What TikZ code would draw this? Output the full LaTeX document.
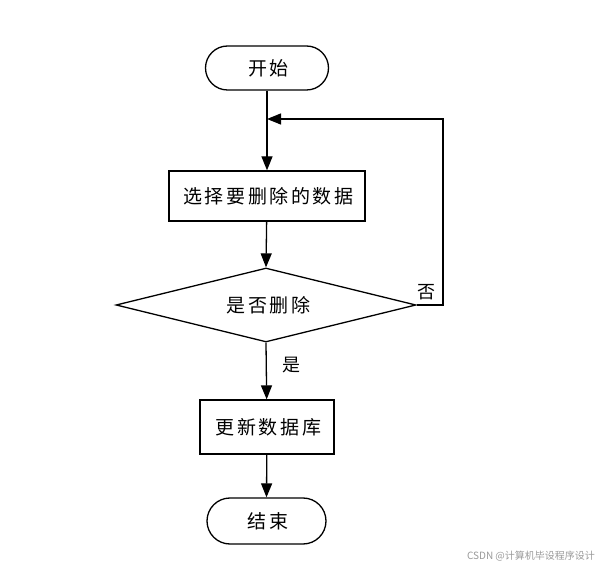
\documentclass[tikz,border=0pt]{standalone}
\usepackage{fontspec}
\setmainfont{Noto Sans CJK SC}
\newfontfamily\cjksp[LetterSpace=14]{Noto Sans CJK SC}
\newcommand\spaced[1]{\kern2.66pt#1}
\usetikzlibrary{shapes.geometric,shapes.misc,arrows.meta}
\begin{document}
\begin{tikzpicture}[x=1pt,y=-1pt,
  every node/.style={font=\cjksp\fontsize{19}{21}\selectfont},
  term/.style={draw,line width=1.3pt,rounded rectangle,minimum width=123pt,minimum height=44pt,inner sep=0pt},
  proc/.style={draw,line width=1.3pt,rectangle,inner sep=0pt},
  dec/.style={draw,line width=1.3pt,diamond,aspect=4.05,minimum width=300pt,minimum height=74pt,inner sep=0pt},
  conn/.style={line width=1.3pt,-{Triangle[length=14pt,width=11pt]}},
  lbl/.style={font=\fontsize{18}{20}\selectfont}]
\useasboundingbox (0,0) rectangle (611,569);
\node[term] (start) at (267,68) {\spaced{开始}};
\node[proc,minimum width=196pt,minimum height=50pt] (sel) at (267,196) {\spaced{选择要删除的数据}};
\node[dec] (q) at (266,305) {};
\node at (267,305) {\spaced{是否删除}};
\node[proc,minimum width=134pt,minimum height=54pt] (upd) at (267,427) {\spaced{更新数据库}};
\node[term,minimum width=119pt,minimum height=46pt] (end) at (266.5,521) {\spaced{结束}};
\coordinate (m) at (267,119);
\coordinate (r) at (443,119);
\draw[line width=1.3pt] (start) -- (m);
\draw[conn] (m) -- (sel);
\draw[conn] (sel) -- (q.north);
\draw[conn] (q.east) -| (r) -- (m);
\draw[conn] (q.south) -- (upd);
\draw[conn] (upd) -- (end.north);
\node[lbl] at (426,292) {否};
\node[lbl] at (291,365) {是};
\node[font=\fontsize{10}{12}\selectfont,text=black!40] (wm) at (531,556) {CSDN @计算机毕设程序设计};
\end{tikzpicture}
\end{document}
